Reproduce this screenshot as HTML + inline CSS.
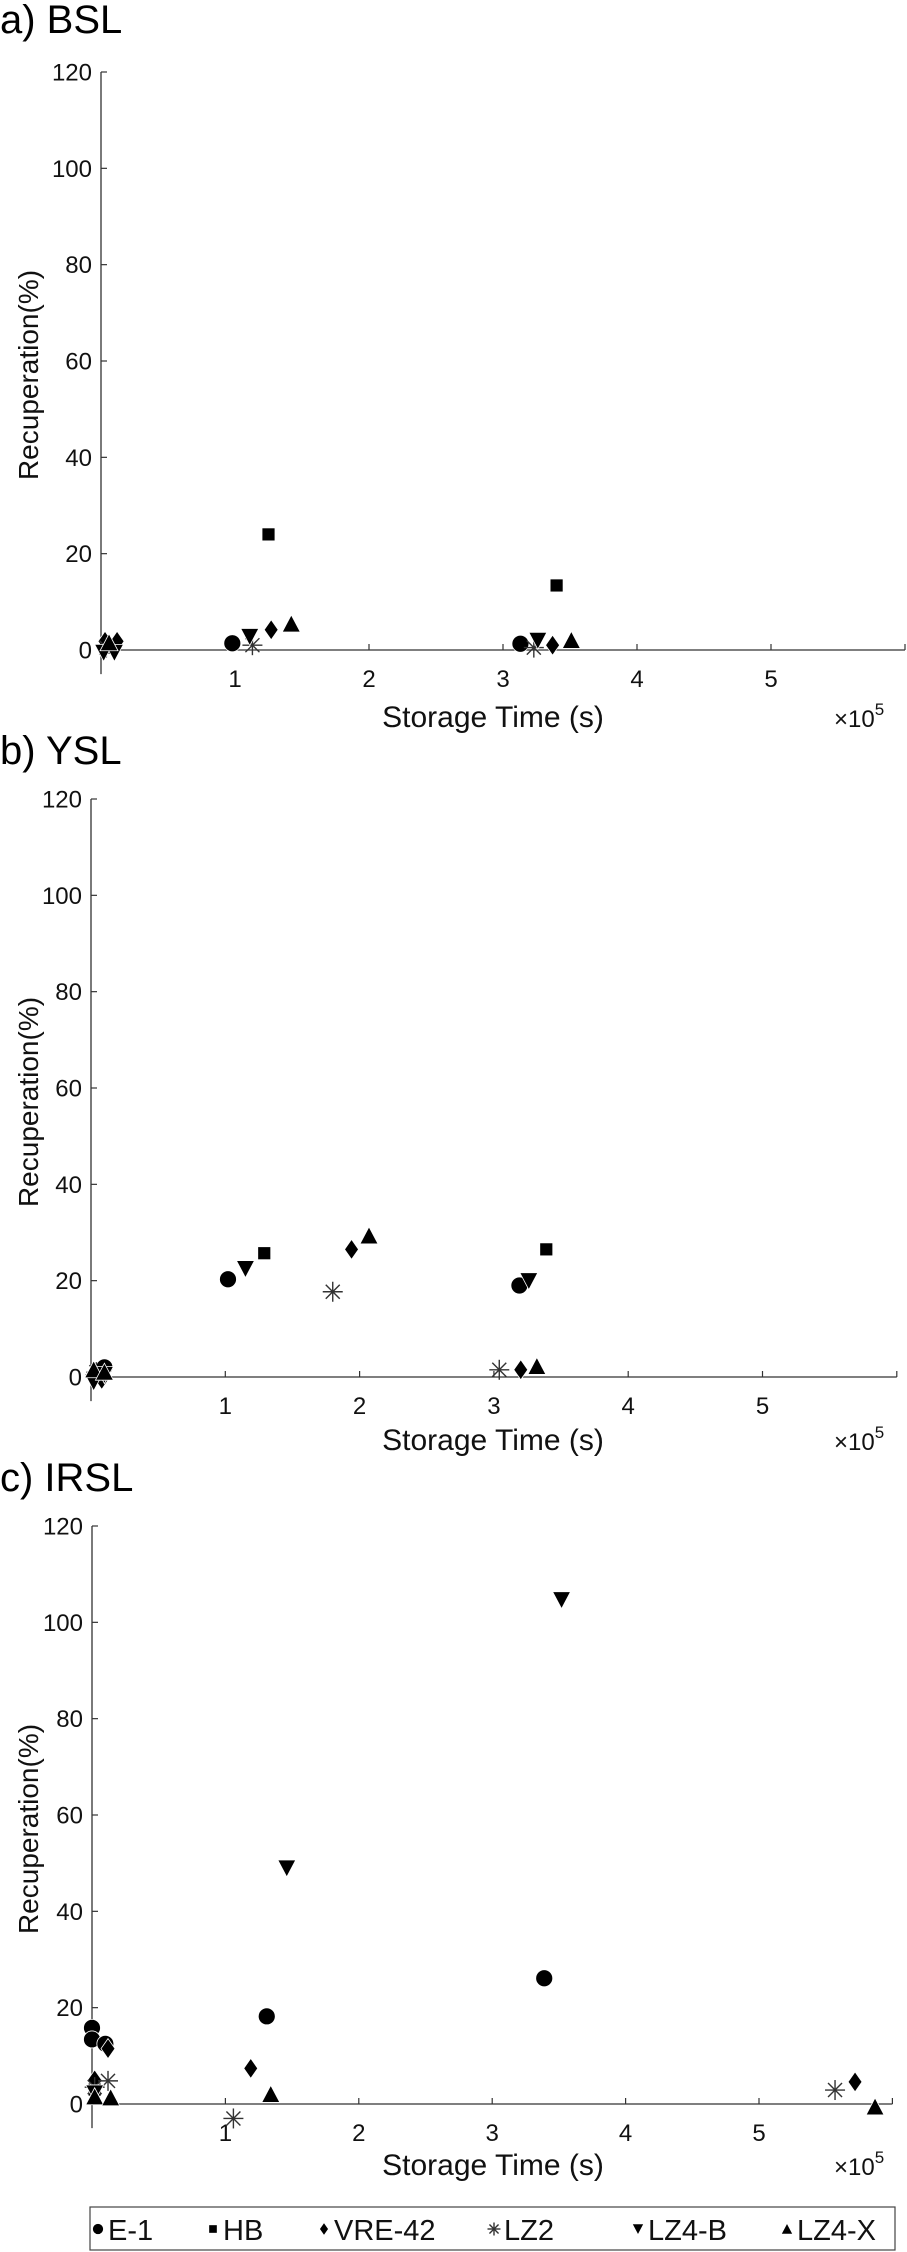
<!DOCTYPE html>
<html><head><meta charset="utf-8">
<style>
html,body{margin:0;padding:0;background:#fff;}
svg{display:block;font-family:"Liberation Sans",Arial,sans-serif;}
</style></head>
<body>
<svg id="fig" width="907" height="2252" viewBox="0 0 907 2252" xmlns="http://www.w3.org/2000/svg">
  <g id="panels"></g>
  <g>
    <rect x="90" y="2207" width="805" height="43" fill="#fff" stroke="#444" stroke-width="1.2"/>
    <g id="legend-items"></g>
  </g>
</svg>
<script>
// ---- data (x in units of 1e5 s, y in %) ----
const seriesNames = ["E-1","HB","VRE-42","LZ2","LZ4-B","LZ4-X"];
const xTickLabels = ["1","2","3","4","5"];
const yTickLabels = ["0","20","40","60","80","100","120"];

const bslE1x = [0.05,0.98,3.13];        const bslE1y = [1,1.4,1.3];
const bslHBx = [0.05,1.25,3.4];         const bslHBy = [0.5,24,13.4];
const bslVREx = [0.03,0.12,1.27,3.37];  const bslVREy = [1.8,1.8,4.2,1];
const bslLZ2x = [0.04,1.13,3.23];       const bslLZ2y = [0.5,1,0.5];
const bslLZ4Bx = [0.02,0.1,1.11,3.26];  const bslLZ4By = [-0.5,-0.5,2.8,2];
const bslLZ4Xx = [0.06,1.42,3.51];      const bslLZ4Xy = [1.5,5.4,2];

const yslE1x = [0.1,1.02,3.19];         const yslE1y = [2,20.3,19];
const yslHBx = [0.05,1.29,3.39];        const yslHBy = [0.5,25.7,26.5];
const yslVREx = [0.02,0.08,1.94,3.2];   const yslVREy = [0,-0.5,26.5,1.5];
const yslLZ2x = [0.04,1.8,3.04];        const yslLZ2y = [1,17.7,1.5];
const yslLZ4Bx = [0.02,0.1,1.15,3.26];  const yslLZ4By = [-1,0.5,22.5,20];
const yslLZ4Xx = [0.02,0.1,2.07,3.32];  const yslLZ4Xy = [1.5,1,29.3,2.2];

const irslE1x = [0,0,0.1,1.31,3.39];    const irslE1y = [15.8,13.4,12.5,18.2,26.1];
const irslHBx = [0.02];                 const irslHBy = [3];
const irslVREx = [0.02,0.12,1.19,5.72]; const irslVREy = [5,11.5,7.4,4.6];
const irslLZ2x = [0.02,0.12,1.06,5.57]; const irslLZ2y = [3.5,4.8,-3,2.9];
const irslLZ4Bx = [0.02,1.46,3.52];     const irslLZ4By = [2.3,49,104.7];
const irslLZ4Xx = [0.02,0.14,1.34,5.87];const irslLZ4Xy = [1.5,1.3,2,-0.6];

const NS = "http://www.w3.org/2000/svg";
function mk(tag, attrs, parent){
  const e = document.createElementNS(NS, tag);
  for (const k in attrs) e.setAttribute(k, attrs[k]);
  if (parent) parent.appendChild(e);
  return e;
}

function drawMarker(g, type, cx, cy, s){
  let m;
  if (type === 0){ m = mk("circle",{cx:cx,cy:cy,r:8.5*s,fill:"#000",stroke:"#fff","stroke-width":0.8},g); }
  else if (type === 1){ m = mk("rect",{x:cx-6.5*s,y:cy-6.5*s,width:13*s,height:13*s,fill:"#000",stroke:"#fff","stroke-width":0.8},g); }
  else if (type === 2){ m = mk("polygon",{points:`${cx},${cy-10*s} ${cx+7*s},${cy} ${cx},${cy+10*s} ${cx-7*s},${cy}`,fill:"#000",stroke:"#fff","stroke-width":0.8},g); }
  else if (type === 3){
    m = mk("g",{stroke:"#333","stroke-width":1.4},g);
    const r = 10*s;
    mk("line",{x1:cx-r,y1:cy,x2:cx+r,y2:cy},m);
    mk("line",{x1:cx,y1:cy-r,x2:cx,y2:cy+r},m);
    mk("line",{x1:cx-r*0.7,y1:cy-r*0.7,x2:cx+r*0.7,y2:cy+r*0.7},m);
    mk("line",{x1:cx-r*0.7,y1:cy+r*0.7,x2:cx+r*0.7,y2:cy-r*0.7},m);
  }
  else if (type === 4){ m = mk("polygon",{points:`${cx-9*s},${cy-8*s} ${cx+9*s},${cy-8*s} ${cx},${cy+9*s}`,fill:"#000",stroke:"#fff","stroke-width":0.8},g); }
  else { m = mk("polygon",{points:`${cx-9*s},${cy+8*s} ${cx+9*s},${cy+8*s} ${cx},${cy-9*s}`,fill:"#000",stroke:"#fff","stroke-width":0.8},g); }
  return m;
}

const panels = [
  {id:"bsl", title:"a) BSL", titleY:33, x0:101, xs:134, y0:650, y120:72, tickY:687, titleXY:727,
   data:[[bslE1x,bslE1y],[bslHBx,bslHBy],[bslVREx,bslVREy],[bslLZ2x,bslLZ2y],[bslLZ4Bx,bslLZ4By],[bslLZ4Xx,bslLZ4Xy]]},
  {id:"ysl", title:"b) YSL", titleY:764, x0:91, xs:134.3, y0:1377, y120:799, tickY:1414, titleXY:1450,
   data:[[yslE1x,yslE1y],[yslHBx,yslHBy],[yslVREx,yslVREy],[yslLZ2x,yslLZ2y],[yslLZ4Bx,yslLZ4By],[yslLZ4Xx,yslLZ4Xy]]},
  {id:"irsl", title:"c) IRSL", titleY:1491, x0:92, xs:133.4, y0:2104, y120:1526, tickY:2141, titleXY:2175,
   data:[[irslE1x,irslE1y],[irslHBx,irslHBy],[irslVREx,irslVREy],[irslLZ2x,irslLZ2y],[irslLZ4Bx,irslLZ4By],[irslLZ4Xx,irslLZ4Xy]]}
];

const root = document.getElementById("panels");
panels.forEach(p => {
  const g = mk("g",{},root);
  
  
  const sy = (p.y0 - p.y120)/120;
  const X = v => p.x0 + v*p.xs;
  const Y = v => p.y0 - v*sy;

  const t = mk("text",{x:0,y:p.titleY,"font-size":40,fill:"#000"},g);
  t.textContent = p.title;
  
  

  // y axis
  const ya = mk("line",{x1:p.x0,y1:Y(120),x2:p.x0,y2:Y(-5),stroke:"#333","stroke-width":1.3},g);
  
  
  yTickLabels.forEach(lb => {
    const v = parseFloat(lb);
    mk("line",{x1:p.x0,y1:Y(v),x2:p.x0+6,y2:Y(v),stroke:"#333","stroke-width":1.2},g);
    const tl = mk("text",{x:p.x0-9,y:Y(v)+8.5,"font-size":24,"text-anchor":"end",fill:"#111"},g);
    tl.textContent = lb;
    
    
  });
  const yt = mk("text",{x:0,y:0,"font-size":28,"text-anchor":"middle",fill:"#111",
    transform:`translate(38,${(Y(120)+Y(0))/2+14}) rotate(-90)`},g);
  yt.textContent = "Recuperation(%)";
  
  

  // x axis
  const xa = mk("line",{x1:p.x0,y1:Y(0),x2:X(6),y2:Y(0),stroke:"#333","stroke-width":1.3},g);
  
  
  xTickLabels.forEach(lb => {
    const v = parseFloat(lb);
    mk("line",{x1:X(v),y1:Y(0),x2:X(v),y2:Y(0)-6,stroke:"#333","stroke-width":1.2},g);
    const tl = mk("text",{x:X(v),y:p.tickY,"font-size":24,"text-anchor":"middle",fill:"#111"},g);
    tl.textContent = lb;
    
    
  });
  mk("line",{x1:X(6),y1:Y(0),x2:X(6),y2:Y(0)-6,stroke:"#333","stroke-width":1.2},g);
  const xt = mk("text",{x:493,y:p.titleXY,"font-size":30,"text-anchor":"middle",fill:"#111"},g);
  xt.textContent = "Storage Time (s)";
  
  
  const ex = mk("text",{x:834,y:p.titleXY,"font-size":24,fill:"#111"},g);
  ex.textContent = "×10";
  
  
  const sup = mk("tspan",{dy:-12,"font-size":17},ex);
  sup.textContent = "5";

  // series
  p.data.forEach((d, si) => {
    const sg = mk("g",{},g);
    
    
    d[0].forEach((xv, i) => {
      const m = drawMarker(sg, si, X(xv), Y(d[1][i]), 1);
      
      
    });
  });
});

// legend
const legendX = [98,213,324,494,638,787];
const lg = document.getElementById("legend-items");
seriesNames.forEach((n, i) => {
  const eg = mk("g",{},lg);
  
  
  drawMarker(eg, i, legendX[i], 2229, 0.65);
  const tx = mk("text",{x:legendX[i]+10,y:2240,"font-size":29,fill:"#111"},eg);
  tx.textContent = n;
});
</script>
</body></html>
